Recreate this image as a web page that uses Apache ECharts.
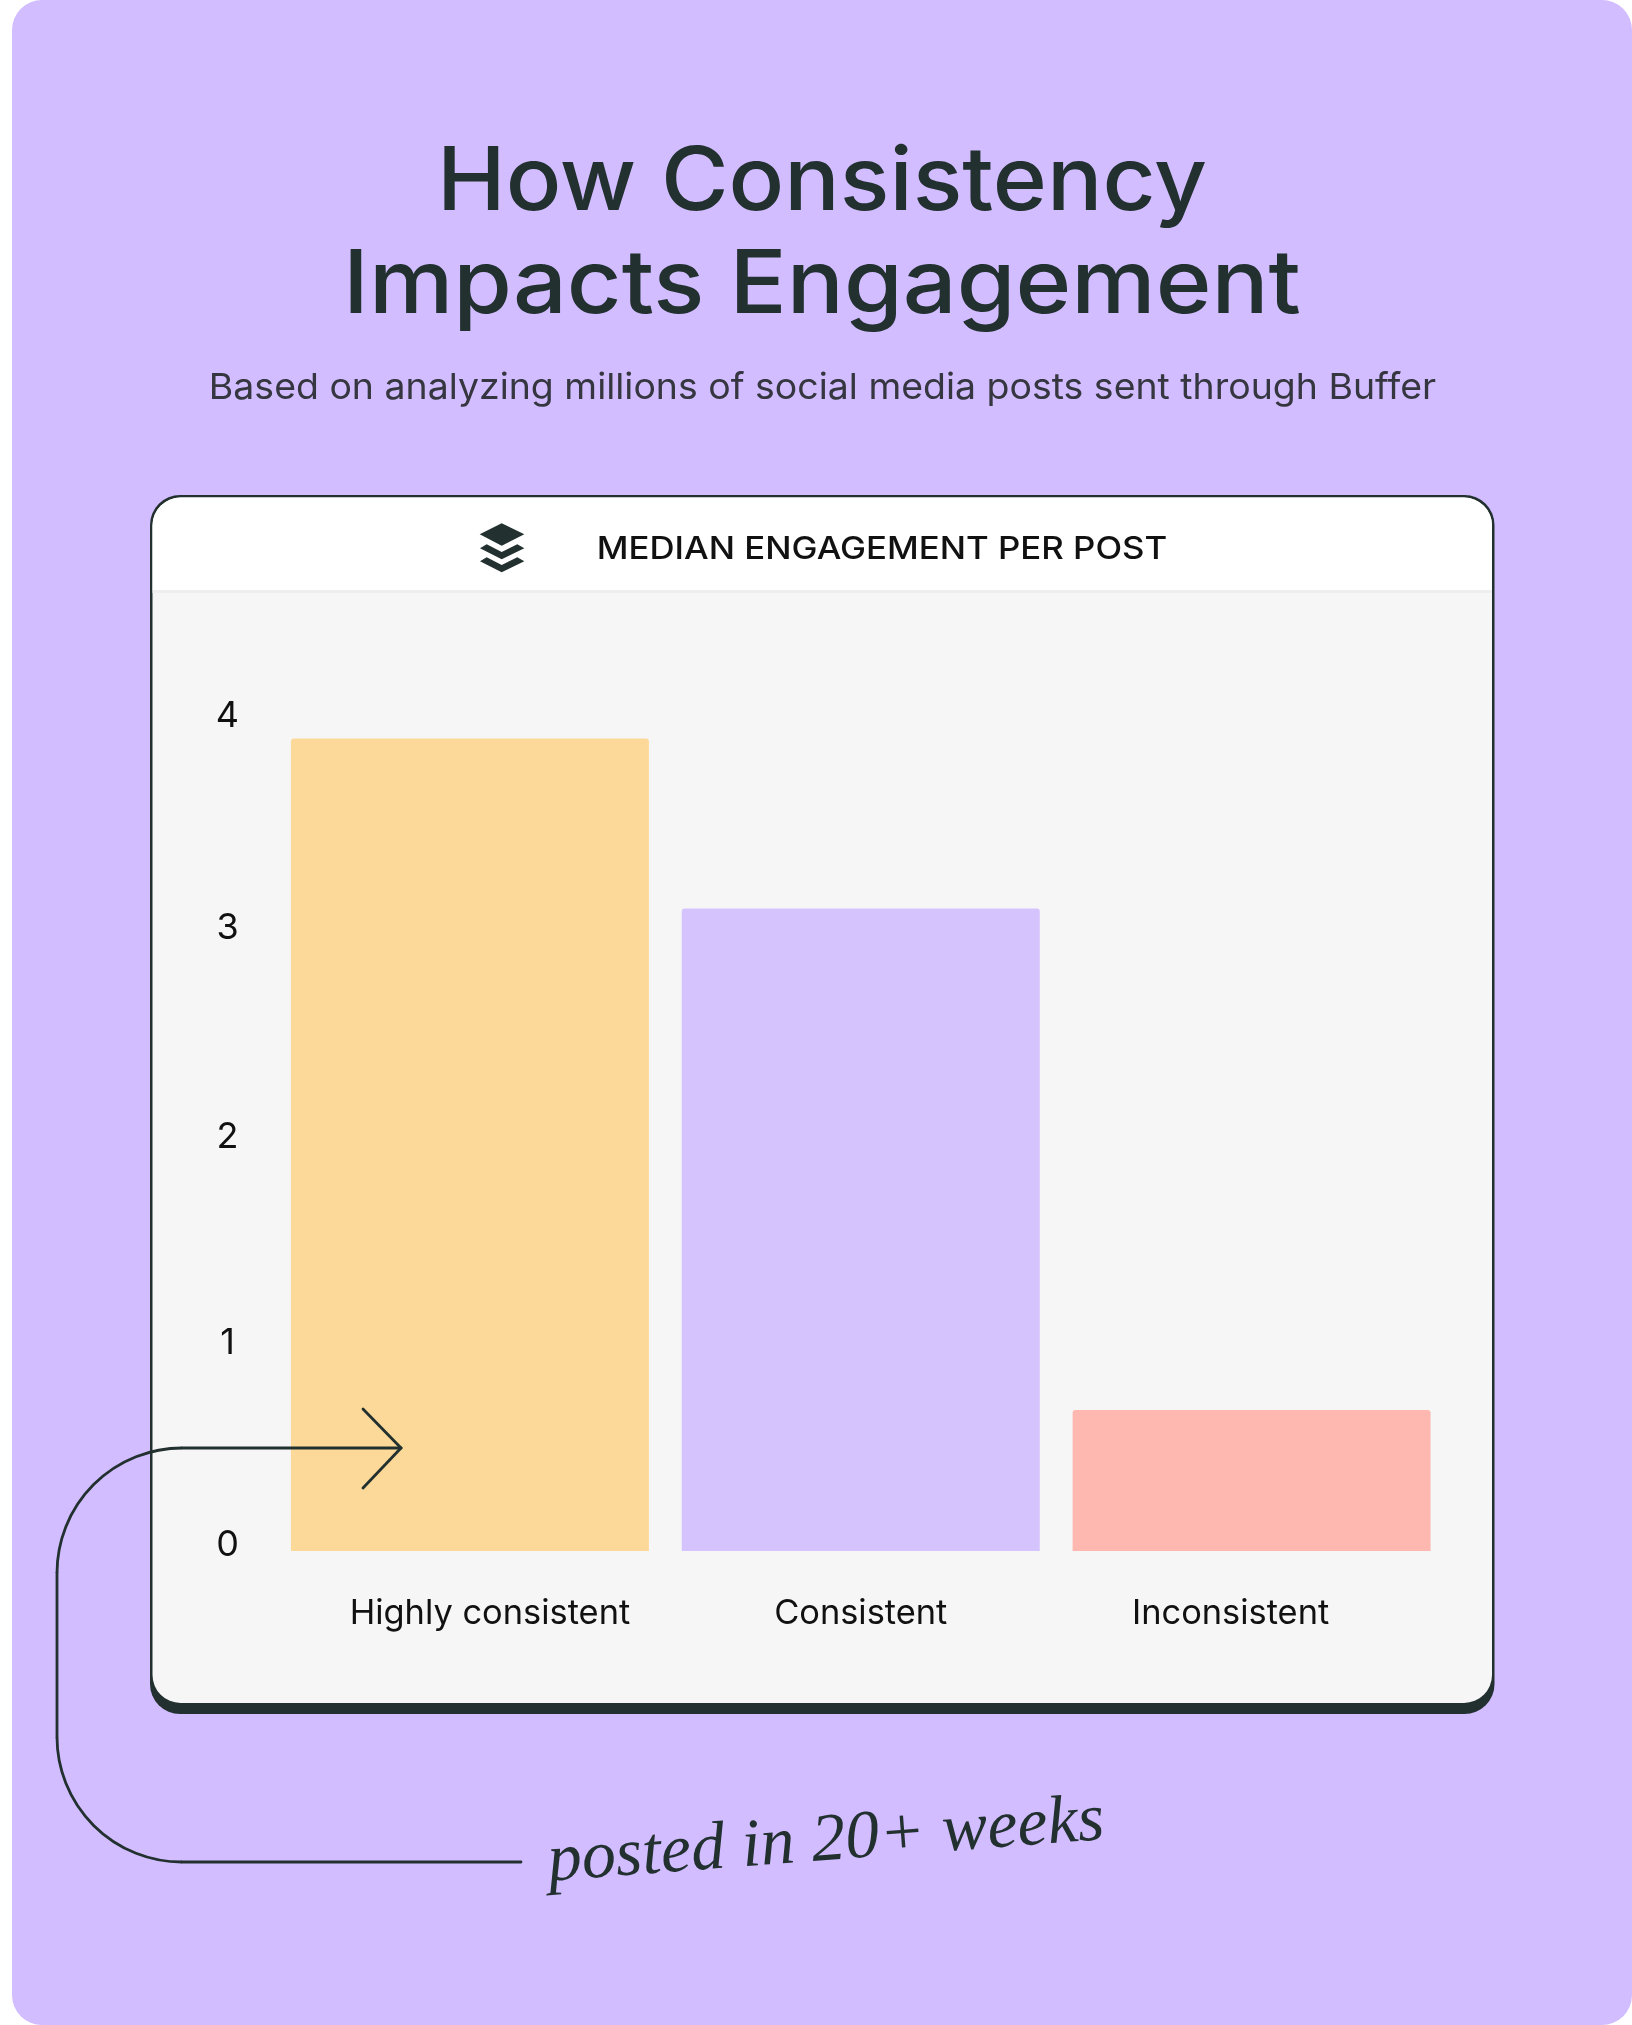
<!DOCTYPE html>
<html>
<head>
<meta charset="utf-8">
<style>
  html, body { margin: 0; padding: 0; background: #ffffff; }
  #chart { width: 1632px; height: 2025px; }
</style>
<script src="https://cdn.jsdelivr.net/npm/echarts@6/dist/echarts.min.js"></script>
</head>
<body>
<div id="chart"></div>
<script>
// values
const categories = ['Highly consistent', 'Consistent', 'Inconsistent'];
const engagement = [3.92, 3.10, 0.68];
const barColors = ['#fcd998', '#d5c3fd', '#ffb8b0'];
// the x labels do not sit centered under their bars
const labelStyles = ['right', 'mid', 'left'];

const INK = '#22302f';
const PANEL = '#d1bdff';
const uiFont = 'Inter';

function lineEl(x1, y1, x2, y2) {
    return {
        type: 'line', z: 20, shape: { x1: x1, y1: y1, x2: x2, y2: y2 },
        style: { stroke: INK, lineWidth: 2.8, lineCap: 'round' }
    };
}
function arcEl(cx, cy, r, a0, a1) {
    return {
        type: 'arc', z: 20, shape: { cx: cx, cy: cy, r: r, startAngle: a0, endAngle: a1, clockwise: true },
        style: { stroke: INK, lineWidth: 2.8, fill: null }
    };
}
function logoEl(points) {
    return { type: 'polygon', z: 3, shape: { points: points }, style: { fill: INK } };
}
// scaleX stands in for the wider typeface and tracking of the original
function textEl(text, x, y, sx, font, color) {
    return {
        type: 'text', z: 4, x: x, y: y, scaleX: sx,
        style: { text: text, fill: color, font: font, textAlign: 'center', textVerticalAlign: 'middle' }
    };
}
// y labels sit slightly off their ticks, by a different amount each
function tickStyle(lift) {
    return {
        fontFamily: uiFont, fontSize: 36, color: '#111111',
        padding: [Math.max(-lift * 2, 0), 0, Math.max(lift * 2, 0), 0]
    };
}

const chart = echarts.init(document.getElementById('chart'), null, { renderer: 'canvas' });

chart.setOption({
    backgroundColor: '#ffffff',
    animation: false,
    grid: { left: 274.5, right: 185, top: 722, bottom: 474, containLabel: false },
    xAxis: {
        type: 'category',
        z: 10,
        data: categories,
        axisLine: { show: false },
        axisTick: { show: false },
        axisLabel: {
            margin: 46,
            interval: 0,
            formatter: function (name, i) { return '{' + labelStyles[i] + '|' + name + '}'; },
            rich: {
                right: { fontFamily: uiFont, fontSize: 34.4, color: '#111111', padding: [0, 0, 0, 40] },
                mid: { fontFamily: uiFont, fontSize: 34.4, color: '#111111' },
                left: { fontFamily: uiFont, fontSize: 34.4, color: '#111111', padding: [0, 42, 0, 0] }
            }
        }
    },
    yAxis: {
        type: 'value',
        z: 10,
        min: 0,
        max: 4,
        interval: 1,
        splitLine: { show: false },
        axisLine: { show: false },
        axisTick: { show: false },
        axisLabel: {
            align: 'center',
            margin: 47,
            formatter: function (v) { return '{t' + v + '|' + v + '}'; },
            rich: {
                t0: tickStyle(5.5),
                t1: tickStyle(0.5),
                t2: tickStyle(-1),
                t3: tickStyle(1.5),
                t4: tickStyle(5.5)
            }
        }
    },
    series: [{
        type: 'bar',
        z: 5,
        barWidth: 358,
        data: engagement.map(function (v, i) {
            return { value: v, itemStyle: { color: barColors[i], borderRadius: [3, 3, 0, 0] } };
        })
    }],
    graphic: { elements: [
        // panel
        { type: 'rect', z: 0, shape: { x: 12, y: 0, width: 1620, height: 2025, r: 30 }, style: { fill: PANEL } },
        // card with its thick lower edge
        { type: 'rect', z: 1, shape: { x: 150, y: 495, width: 1344.5, height: 1219, r: 30 }, style: { fill: INK } },
        { type: 'rect', z: 2, shape: { x: 152.5, y: 497.5, width: 1339.5, height: 1205.5, r: 28 }, style: { fill: '#f6f6f6' } },
        { type: 'rect', z: 2, shape: { x: 152.5, y: 497.5, width: 1339.5, height: 92.5, r: [28, 28, 0, 0] }, style: { fill: '#ffffff' } },
        { type: 'rect', z: 2, shape: { x: 152.5, y: 590, width: 1339.5, height: 3 }, style: { fill: '#eeeeee' } },
        // heading
        textEl('How Consistency', 822, 184, 1.048, '500 88px Inter', INK),
        textEl('Impacts Engagement', 822, 286.5, 1.079, '500 88px Inter', INK),
        textEl('Based on analyzing millions of social media posts sent through Buffer', 822.5, 388, 1.04, '400 36px Inter', '#35363f'),
        textEl('MEDIAN ENGAGEMENT PER POST', 882, 550, 1.122, '500 31px Inter', '#111111'),
        // layers logo
        logoEl([[501.7, 523.3], [524.3, 534.3], [501.7, 545.7], [479.7, 534.3]]),
        logoEl([[480, 548.3], [486.7, 544.3], [501.7, 552], [517.3, 544.3], [524.3, 548.3], [501.7, 559.3]]),
        logoEl([[480, 561.3], [486.7, 557.3], [501.7, 565], [517.3, 557.3], [524.3, 561.3], [501.7, 572.3]]),
        // connector from the handwritten note to the first bar
        lineEl(521, 1862, 182, 1862),
        arcEl(182, 1737, 125, Math.PI / 2, Math.PI),
        lineEl(57, 1737, 57, 1573),
        arcEl(182, 1573, 125, Math.PI, Math.PI * 1.5),
        lineEl(182, 1448, 401, 1448),
        lineEl(363, 1409, 401, 1448),
        lineEl(363, 1488, 401, 1448),
        // handwritten note
        {
            type: 'text', z: 20, x: 826, y: 1842, rotation: 0.075,
            style: {
                text: 'posted in 20+ weeks',
                fill: INK,
                font: 'italic 400 68px "Liberation Serif"',
                textAlign: 'center',
                textVerticalAlign: 'middle'
            }
        }
    ] }
});
</script>
</body>
</html>
